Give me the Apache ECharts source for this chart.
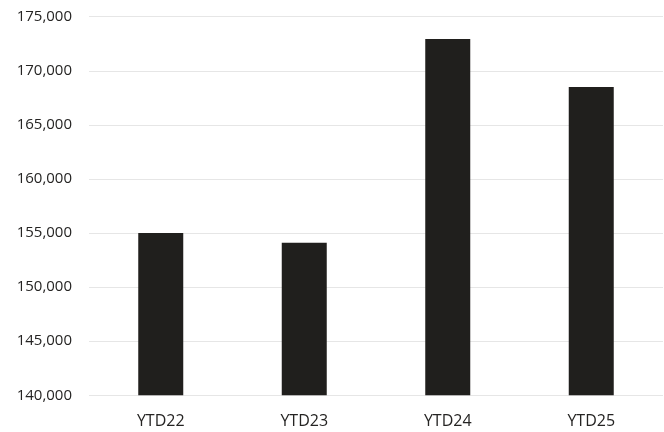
<!DOCTYPE html>
<html>
<head>
<meta charset="utf-8">
<script src="https://cdn.jsdelivr.net/npm/echarts@6/dist/echarts.min.js"></script>
<style>html,body{margin:0;padding:0;background:#fff}#c{width:664px;height:432px}</style>
</head>
<body>
<div id="c"></div>
<script>
const categories = ['YTD22', 'YTD23', 'YTD24', 'YTD25'];
const values = [155000, 154100, 172950, 168500];
const yTicks = [140000, 145000, 150000, 155000, 160000, 165000, 170000, 175000];

const chart = echarts.init(document.getElementById('c'), null, {renderer: 'canvas'});
chart.setOption({
  animation: false,
  backgroundColor: '#ffffff',
  textStyle: {fontFamily: 'Open Sans'},
  grid: {left: 89, right: 1, top: 16.7, bottom: 36.7, containLabel: false},
  xAxis: {
    type: 'category',
    data: categories,
    axisLine: {show: false},
    axisTick: {show: false},
    axisLabel: {color: '#252423', fontSize: 16, margin: 18, fontFamily: 'Open Sans'}
  },
  yAxis: {
    type: 'value',
    min: yTicks[0],
    max: yTicks[yTicks.length - 1],
    interval: 5000,
    axisLine: {show: false},
    axisTick: {show: false},
    splitLine: {lineStyle: {color: '#e6e6e6', width: 1}},
    axisLabel: {
      color: '#252423', fontSize: 15, margin: 17, fontFamily: 'Open Sans',
      formatter: v => v.toLocaleString('en-US')
    }
  },
  series: [{
    type: 'bar',
    data: values,
    barWidth: 45,
    itemStyle: {color: '#201f1d'}
  }]
});
</script>
</body>
</html>
